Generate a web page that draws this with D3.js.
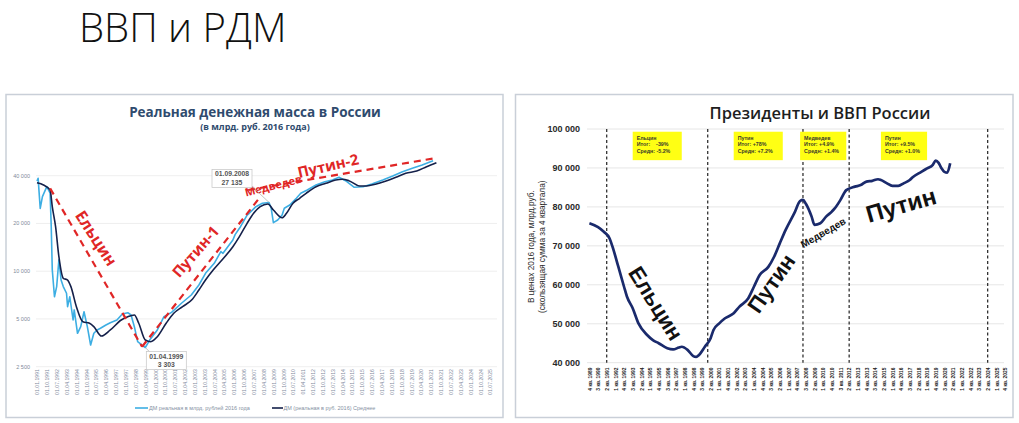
<!DOCTYPE html>
<html><head><meta charset="utf-8">
<script src="https://cdnjs.cloudflare.com/ajax/libs/d3/7.8.5/d3.min.js"></script>
<style>body{margin:0;background:#fff}svg{display:block}</style>
</head><body>
<svg id="c" width="1019" height="423"></svg>
<script>
// ---------------- LEFT CHART DATA (real money mass, bln RUB 2016) ----------------
const moneyDates = ["1991-01","1991-02","1991-04","1991-06","1991-10","1992-01","1992-02","1992-03","1992-05","1992-07","1992-09","1992-11","1993-01","1993-04","1993-05","1993-07","1993-10","1993-11","1994-02","1994-05","1994-08","1994-11","1995-02","1995-05","1995-08","1995-11","1996-04","1996-08","1997-02","1997-07","1997-12","1998-03","1998-06","1998-09","1999-01","1999-04","1999-08","2000-03","2000-09","2001-04","2002-01","2002-10","2003-05","2003-11","2004-07","2005-01","2005-03","2005-12","2006-02","2006-07","2007-01","2007-03","2007-09","2008-03","2008-09","2008-11","2009-01","2009-05","2009-09","2009-11","2010-04","2010-10","2011-02","2011-08","2012-04","2012-12","2013-07","2014-01","2014-07","2015-03","2015-11","2016-07","2017-05","2018-02","2018-11","2019-08","2020-05","2021-03"];
const moneyReal = [37000,38500,24900,29500,34100,31000,19100,10200,6900,8000,11800,8800,8000,7260,5975,6900,4925,5700,4060,4470,5550,4470,3425,4060,4260,4365,4580,4735,4925,5370,5475,5295,4470,3600,3420,3303,3680,4260,5165,5500,6280,7080,8185,9700,11210,13300,12970,15730,17000,19080,22600,23180,25510,26800,27135,24920,20220,21030,22610,24920,26140,28820,30980,32510,34940,36650,37570,39080,37200,33800,34100,35460,37570,39830,42390,44530,46720,49730];
const avgDates = ["1991-01","1991-07","1992-01","1992-03","1992-06","1992-09","1993-01","1993-05","1993-08","1994-01","1994-07","1995-01","1995-05","1995-12","1996-08","1997-06","1997-12","1998-06","1998-10","1999-04","1999-09","2000-03","2000-11","2001-06","2002-02","2002-11","2003-05","2003-11","2004-06","2005-02","2005-12","2006-06","2007-01","2007-07","2008-01","2008-08","2009-01","2009-09","2010-01","2010-07","2011-01","2011-07","2012-04","2013-01","2013-10","2014-04","2014-10","2015-08","2016-02","2016-11","2017-08","2018-05","2019-02","2019-12","2020-09","2021-06"];
const moneyAvg = [36100,34950,32500,25500,19080,12340,9020,8800,7990,5975,4800,4695,4470,3900,4260,4925,5165,5295,4695,3683,3595,3865,4695,5427,5975,6650,7610,8800,10175,11770,14270,16510,20040,23180,25510,26520,24320,21740,23180,26800,28820,30980,34100,35820,37570,37970,37200,34440,34440,35460,37040,39080,41420,42820,45580,48300];
const moneyTicks = [2500,5000,10000,20000,40000];
const moneyLegend = ["ДМ реальная в млрд. рублей 2016 года","ДМ (реальная в руб. 2016) Среднее"];
// red trend lines [date, value]
const trendYeltsin = [["1992-01",33300],["1999-01",3342]];
const trendPutin1  = [["1999-01",3342],["2008-01",29400]];
const trendPutin2  = [["2007-02",32500],["2021-04",51500]];
const leftNotes = [
  {t:"Ельцин", d:"1995-07", v:16120, a:57, s:16},
  {t:"Путин-1", d:"2003-02", v:13270, a:-49, s:15},
  {t:"Медведев", d:"2009-01", v:34580, a:-14, s:11},
  {t:"Путин-2", d:"2013-03", v:46050, a:-13, s:15}
];
const callouts = [
  {d:"2008-09", v:27135, date:"01.09.2008", dx:-37, dy:-24},
  {d:"1999-04", v:3303, date:"01.04.1999", dx:21, dy:13}
];

// ---------------- RIGHT CHART DATA (GDP, bln RUB 2016, rolling 4Q) ----------------
const gdpQuarters = ["1989Q4","1990Q3","1991Q1","1991Q3","1991Q4","1992Q2","1992Q4","1993Q1","1993Q3","1994Q1","1994Q4","1995Q2","1995Q4","1996Q3","1997Q1","1997Q3","1997Q4","1998Q2","1998Q4","1999Q1","1999Q2","1999Q4","2000Q2","2000Q3","2001Q1","2001Q3","2002Q2","2002Q4","2003Q3","2004Q1","2004Q3","2005Q2","2005Q4","2006Q2","2006Q4","2007Q3","2008Q1","2008Q2","2008Q3","2009Q1","2009Q2","2009Q4","2010Q2","2010Q4","2011Q1","2011Q3","2012Q1","2012Q4","2013Q2","2013Q4","2014Q2","2014Q4","2015Q1","2015Q3","2016Q1","2016Q3","2017Q1","2017Q3","2017Q4","2018Q3","2019Q1","2019Q3","2019Q4","2020Q1","2020Q2","2020Q3","2020Q4","2021Q1"];
const gdpValues = [75800,74800,73600,71900,69800,64700,59500,57000,54000,50100,47100,45800,45000,43700,43400,43900,44100,43300,41700,41500,42000,44100,46300,48400,50100,51400,52700,54400,56500,59500,62500,64600,67200,70700,74100,78400,81500,81800,80800,77500,75400,75800,77500,78800,79600,81800,84300,85200,85600,86500,86700,87100,86900,86100,85400,85400,86100,86900,87600,89000,89900,90800,91900,91300,89900,89000,88800,91200];
const gdpTicks = [40000,50000,60000,70000,80000,90000,100000];
const presidentChanges = ["1991Q2","2000Q1","2008Q2","2012Q2","2024Q2"];
const infoBoxes = [
  {from:"1993Q3", to:"1997Q4", lines:["Ельцин","Итог:    -39%","Средн: -5.2%"]},
  {from:"2002Q2", to:"2006Q3", lines:["Путин","Итог: +78%","Средн: +7.2%"]},
  {from:"2008Q1", to:"2012Q1", lines:["Медведев","Итог: +4.9%","Средн: +1.4%"]},
  {from:"2015Q1", to:"2019Q1", lines:["Путин","Итог: +9.5%","Средн: +1.0%"]}
];
const rightNotes = [
  {t:"Ельцин", q:"1995Q3", v:55250, a:58, s:22},
  {t:"Путин", q:"2005Q3", v:60380, a:-55, s:22},
  {t:"Медведев", q:"2010Q1", v:73380, a:-30, s:10},
  {t:"Путин", q:"2016Q4", v:80490, a:-16, s:24}
];

// ---------------- HELPERS ----------------
const parse = d3.timeParse("%Y-%m");
const qIndex = s => { const y=+s.slice(0,4), q=+s.slice(5); return y*4+(q-1) - (1989*4+3); };
const qLabel = i => { const t=i+1989*4+3; return (t%4+1)+" кв. "+Math.floor(t/4); };
const fmt = d3.formatLocale({decimal:",",thousands:" ",grouping:[3],currency:["",""]}).format(",");
const svg = d3.select("#c");
svg.append("rect").attr("width",1019).attr("height",423).attr("fill","#fff");

// Slide title
svg.append("text").attr("x",79).attr("y",42).text("ВВП и РДМ")
  .attr("font-family","'Open Sans',sans-serif").attr("font-weight",300).attr("font-size",40).attr("fill","#111");

// Panels
svg.append("rect").attr("x",6).attr("y",94.5).attr("width",497).attr("height",323).attr("fill","#fff").attr("stroke","#C9CFD8").attr("stroke-width",1.5);
svg.append("rect").attr("x",515.5).attr("y",94.5).attr("width",497.5).attr("height",323).attr("fill","#fff").attr("stroke","#C9CFD8").attr("stroke-width",1.5);

// ================= LEFT =================
const L = svg.append("g");
const xL = d3.scaleTime().domain([new Date(1991,0,1), new Date(2025,6,1)]).range([37,490]);
const yL = d3.scaleLog().base(2).domain([2500,40000]).range([366.7,175.7]);

L.append("text").attr("x",255).attr("y",117).attr("text-anchor","middle").text("Реальная денежная масса в России")
  .attr("font-family","'Open Sans',sans-serif").attr("font-weight",700).attr("font-size",13.5).attr("fill","#2F4B6E");
L.append("text").attr("x",255).attr("y",130).attr("text-anchor","middle").text("(в млрд. руб. 2016 года)")
  .attr("font-family","'Open Sans',sans-serif").attr("font-weight",700).attr("font-size",9).attr("fill","#2F4B6E");

// grid + y labels
L.selectAll(".gl").data(moneyTicks).join("line")
  .attr("x1",36).attr("x2",497).attr("y1",d=>yL(d)).attr("y2",d=>yL(d)).attr("stroke","#EAEAEA").attr("stroke-width",0.8);
L.selectAll(".yl").data(moneyTicks).join("text")
  .attr("x",30).attr("y",d=>yL(d)).attr("dy","0.35em").attr("text-anchor","end").text(d=>fmt(d))
  .attr("font-family","'Liberation Sans',sans-serif").attr("font-size",5.5).attr("fill","#7F8A9A");

// x labels
const leftTickDates = d3.range(47).map(i => d3.timeMonth.offset(new Date(1991,0,1), 9*i));
const xAxisL = d3.axisBottom(xL).tickValues(leftTickDates).tickFormat(d3.timeFormat("%d.%m.%Y")).tickSize(0);
const gxl = L.append("g").attr("transform","translate(0,368)").call(xAxisL);
gxl.select(".domain").remove();
gxl.selectAll("text").attr("transform","rotate(-90)").attr("x",-1).attr("y",0).attr("dy","0.35em")
  .attr("text-anchor","end").attr("font-family","'Liberation Sans',sans-serif").attr("font-size",5.2).attr("fill","#7F8CA0");

// lines
const realPts = moneyDates.map((d,i)=>[parse(d), moneyReal[i]]);
const avgPts = avgDates.map((d,i)=>[parse(d), moneyAvg[i]]);
const lineL = d3.line().x(d=>xL(d[0])).y(d=>yL(d[1]));
L.append("path").attr("d", lineL(realPts)).attr("fill","none").attr("stroke","#3DAEE3").attr("stroke-width",1.6).attr("stroke-linejoin","round");
L.append("path").attr("d", lineL.curve(d3.curveMonotoneX)(avgPts)).attr("fill","none").attr("stroke","#14204A").attr("stroke-width",1.6);

// red trend lines
const lineT = d3.line().x(d=>xL(parse(d[0]))).y(d=>yL(d[1]));
[trendYeltsin, trendPutin1, trendPutin2].forEach(t=>{
  L.append("path").attr("d", lineT(t)).attr("fill","none").attr("stroke","#E02626").attr("stroke-width",2.2).attr("stroke-dasharray","7,5");
});
leftNotes.forEach(n=>{
  L.append("text").attr("transform",`translate(${xL(parse(n.d))},${yL(n.v)}) rotate(${n.a})`)
    .attr("text-anchor","middle").attr("dy","0.35em").text(n.t)
    .attr("font-family","'Open Sans',sans-serif").attr("font-weight",700).attr("font-size",n.s).attr("fill","#E02626");
});

// callouts
callouts.forEach(c=>{
  const px=xL(parse(c.d)), py=yL(c.v), cx=px+c.dx, cy=py+c.dy;
  const lx = c.dx<0 ? cx+19 : cx-16, ly = c.dy<0 ? cy+7 : cy-8;
  L.append("line").attr("x1",lx).attr("y1",ly).attr("x2",px).attr("y2",py).attr("stroke","#A9A9A9").attr("stroke-width",0.7);
  L.append("rect").attr("x",cx-20).attr("y",cy-9).attr("width",40).attr("height",18).attr("fill","#fff").attr("stroke","#C4C4C4").attr("stroke-width",0.7);
  L.append("text").attr("x",cx).attr("y",cy-2).attr("text-anchor","middle").text(c.date)
    .attr("font-family","'Liberation Sans',sans-serif").attr("font-weight",700).attr("font-size",6.8).attr("fill","#555");
  L.append("text").attr("x",cx).attr("y",cy+6.5).attr("text-anchor","middle").text(fmt(c.v))
    .attr("font-family","'Liberation Sans',sans-serif").attr("font-weight",700).attr("font-size",6.8).attr("fill","#555");
});

// legend
const lg = L.append("g").attr("font-family","'Liberation Sans',sans-serif").attr("font-size",5.5).attr("fill","#8591A3");
lg.append("line").attr("x1",135).attr("x2",148).attr("y1",408).attr("y2",408).attr("stroke","#3DAEE3").attr("stroke-width",1.6);
lg.append("text").attr("x",149).attr("y",410).text(moneyLegend[0]);
lg.append("line").attr("x1",272).attr("x2",283).attr("y1",408).attr("y2",408).attr("stroke","#14204A").attr("stroke-width",1.6);
lg.append("text").attr("x",283.5).attr("y",410).text(moneyLegend[1]);

// ================= RIGHT =================
const R = svg.append("g");
const xR = d3.scaleLinear().domain([0,144]).range([589.4,1005]);
const yR = d3.scaleLinear().domain([40000,100000]).range([362.7,129]);

R.append("text").attr("x",820).attr("y",119).attr("text-anchor","middle").text("Президенты и ВВП России")
  .attr("font-family","'Open Sans',sans-serif").attr("font-weight",600).attr("font-size",16.5).attr("fill","#1E1E1E");

R.selectAll(".gr").data(gdpTicks).join("line")
  .attr("x1",587).attr("x2",1004).attr("y1",d=>yR(d)).attr("y2",d=>yR(d)).attr("stroke","#E3E3E3").attr("stroke-width",0.9);
R.selectAll(".yr").data(gdpTicks).join("text")
  .attr("x",580).attr("y",d=>yR(d)).attr("dy","0.35em").attr("text-anchor","end").text(d=>fmt(d))
  .attr("font-family","'Liberation Sans',sans-serif").attr("font-weight",700).attr("font-size",9).attr("fill","#2A2A2A");

// y title
const yt = R.append("text").attr("transform","translate(537.5,246.7) rotate(-90)").attr("text-anchor","middle")
  .attr("font-family","'Liberation Sans',sans-serif").attr("font-size",8.3).attr("fill","#2A2A2A");
yt.append("tspan").attr("x",0).attr("dy","-0.45em").text("В ценах 2016 года, млрд.руб.");
yt.append("tspan").attr("x",0).attr("dy","1.35em").text("(скользящая сумма за 4 квартала)");

// x labels
const rightTicks = d3.range(0,145,3);
const xAxisR = d3.axisBottom(xR).tickValues(rightTicks).tickFormat(qLabel).tickSize(0);
const gxr = R.append("g").attr("transform","translate(0,366.5)").call(xAxisR);
gxr.select(".domain").remove();
gxr.selectAll("text").attr("transform","rotate(-90)").attr("x",-1).attr("y",0).attr("dy","0.35em")
  .attr("text-anchor","end").attr("font-family","'Liberation Sans',sans-serif").attr("font-weight",700).attr("font-size",4.9).attr("fill","#222");

// dashed president lines
R.selectAll(".pl").data(presidentChanges).join("line")
  .attr("x1",d=>xR(qIndex(d))).attr("x2",d=>xR(qIndex(d))).attr("y1",yR(100000)).attr("y2",yR(40000))
  .attr("stroke","#222").attr("stroke-width",1.2).attr("stroke-dasharray","3,2.5");

// info boxes
infoBoxes.forEach(b=>{
  const x0=xR(qIndex(b.from)), x1=xR(qIndex(b.to));
  const y0=yR(99300), y1=yR(92000);
  R.append("rect").attr("x",x0).attr("y",y0).attr("width",x1-x0).attr("height",y1-y0).attr("fill","#FFFF14");
  b.lines.forEach((t,i)=>{
    R.append("text").attr("x",x0+4).attr("y",y0+8+i*6.7).text(t).attr("xml:space","preserve")
      .attr("font-family","'Liberation Sans',sans-serif").attr("font-weight",700).attr("font-size",5.3).attr("fill","#3A3A2A");
  });
});

// GDP line
const gdpPts = gdpQuarters.map((q,i)=>[qIndex(q), gdpValues[i]]);
R.append("path").attr("d", d3.line().x(d=>xR(d[0])).y(d=>yR(d[1])).curve(d3.curveMonotoneX)(gdpPts))
  .attr("fill","none").attr("stroke","#1A2A6C").attr("stroke-width",2.7).attr("stroke-linejoin","round");

rightNotes.forEach(n=>{
  R.append("text").attr("transform",`translate(${xR(qIndex(n.q))},${yR(n.v)}) rotate(${n.a})`)
    .attr("text-anchor","middle").attr("dy","0.35em").text(n.t)
    .attr("font-family","'Liberation Sans',sans-serif").attr("font-weight",700).attr("font-size",n.s).attr("fill","#111");
});
</script>
</body></html>
